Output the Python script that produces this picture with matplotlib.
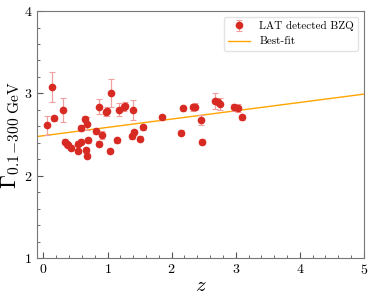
import numpy as np
import matplotlib.pyplot as plt

plt.rcParams['font.family'] = 'serif'
plt.rcParams['font.serif'] = ['cmr10']
plt.rcParams['mathtext.fontset'] = 'cm'
plt.rcParams['axes.formatter.use_mathtext'] = True

# redshift and photon index of the LAT detected BZQ
z = [0.05, 0.135, 0.17, 0.30, 0.34, 0.36, 0.38, 0.43, 0.54, 0.54, 0.58, 0.59,
     0.65, 0.66, 0.685, 0.685, 0.70, 0.815, 0.86, 0.87, 0.91, 0.97, 0.99, 1.04,
     1.055, 1.14, 1.18, 1.26, 1.27, 1.38, 1.40, 1.42, 1.50, 1.56, 1.85, 2.15,
     2.17, 2.34, 2.37, 2.46, 2.48, 2.68, 2.72, 2.75, 2.975, 3.03, 3.10]
gamma = [2.61, 3.08, 2.70, 2.80, 2.41, 2.38, 2.37, 2.34, 2.39, 2.30, 2.58, 2.41,
         2.69, 2.31, 2.63, 2.24, 2.43, 2.54, 2.39, 2.84, 2.49, 2.77, 2.78, 2.30,
         3.01, 2.43, 2.80, 2.83, 2.85, 2.48, 2.80, 2.53, 2.45, 2.59, 2.71, 2.52,
         2.82, 2.83, 2.84, 2.68, 2.41, 2.91, 2.90, 2.87, 2.83, 2.82, 2.71]
gamma_err = [0.11, 0.18, 0.03, 0.15, 0.03, 0.03, 0.03, 0.03, 0.03, 0.03, 0.04, 0.03,
             0.04, 0.03, 0.08, 0.03, 0.03, 0.03, 0.03, 0.09, 0.05, 0.04, 0.06, 0.03,
             0.17, 0.03, 0.08, 0.04, 0.04, 0.03, 0.12, 0.03, 0.03, 0.03, 0.03, 0.03,
             0.03, 0.04, 0.04, 0.06, 0.03, 0.10, 0.04, 0.07, 0.04, 0.05, 0.03]

# best-fit line
fit_slope = 0.101
fit_intercept = 2.486

fig = plt.figure(figsize=(3.74, 2.99), dpi=100)
ax = fig.add_axes([0.099, 0.137, 0.874, 0.826])

pts = ax.errorbar(z, gamma, yerr=gamma_err, fmt='o', color='#d62a22', ms=4.5,
                  ecolor='#f0a0a0', elinewidth=0.9, capsize=2, capthick=0.8,
                  label='LAT detected BZQ', zorder=3)
xx = np.array([-0.1, 5.0])
line, = ax.plot(xx, fit_intercept + fit_slope * xx, color='orange', lw=1.0,
                label='Best-fit')

ax.set_xlim(-0.1, 5)
ax.set_ylim(1, 4)
ax.set_xticks([0, 1, 2, 3, 4, 5])
ax.set_yticks([1, 2, 3, 4])
ax.set_xticks(np.arange(0, 5.01, 0.2), minor=True)
ax.set_yticks(np.arange(1, 4.01, 0.2), minor=True)
ax.tick_params(direction='in', which='both', top=False, right=False,
               labelsize=10, colors='#555555', labelcolor='black')
ax.tick_params(which='major', length=4)
ax.tick_params(which='minor', length=2.5)
for s in ax.spines.values():
    s.set_color('#777777')

ax.set_xlabel(r'$z$', fontsize=15, labelpad=0)
ax.set_ylabel(r'$\Gamma_{0.1\!-\!300\ \mathrm{GeV}}$', fontsize=16)
ax.yaxis.set_label_coords(-0.045, 0.5)
ax.legend([pts, line], ['LAT detected BZQ', 'Best-fit'], loc='upper right',
          fontsize=8, frameon=True, edgecolor='#dddddd', fancybox=True)

fig.savefig('out.png', dpi=100)
